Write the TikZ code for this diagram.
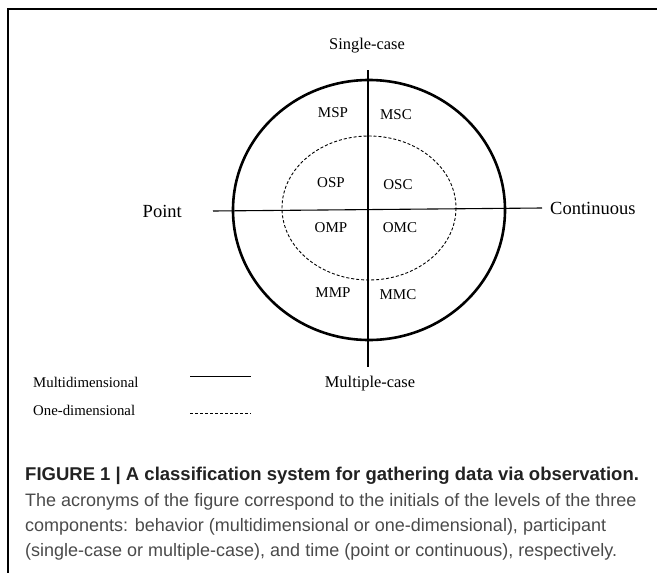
\documentclass[tikz,border=0pt]{standalone}
\usepackage{fontspec}
\setmainfont{Liberation Serif}
\newfontfamily\capfont{Liberation Sans}
\definecolor{capgray}{HTML}{4A4A4A}
\definecolor{capdark}{HTML}{222222}

\begin{document}
\begin{tikzpicture}[x=1pt, y=-1pt,
	axislabel/.style={font=\fontsize{16.4}{18}\selectfont, inner sep=0pt},
	timelabel/.style={font=\fontsize{18.5}{20}\selectfont, inner sep=0pt},
	cell/.style={font=\fontsize{15}{17}\selectfont, inner sep=0pt},
	legendtext/.style={font=\fontsize{14.8}{16}\selectfont, inner sep=0pt, anchor=west},
	captext/.style={anchor=base west, inner sep=0pt, text=capgray,
		font=\capfont\fontsize{18}{25}\selectfont},
	axis/.style={line width=1.1pt},
	multi/.style={line width=2.6pt},
	onedim/.style={line width=0.9pt, dash pattern=on 3pt off 2pt}]
	\useasboundingbox (0,0) rectangle (657,573);
	% frame
	\draw[line width=2pt] (8,573) -- (8,9) -- (657,9);
	% circles
	\draw[multi] (369,210) ellipse [x radius=136, y radius=130];
	\draw[onedim] (369,208) ellipse [x radius=87, y radius=72];
	% axes
	\coordinate (top) at (368,70);
	\coordinate (bottom) at (368,367);
	\coordinate (left) at (213,211);
	\coordinate (right) at (542,208);
	\draw[axis] (top) -- (bottom);
	\draw[axis] (left) -- (right);
	\node[axislabel] (single) at (367,46) {Single-case};
	\node[axislabel] (multiple) at (370,384) {Multiple-case};
	\node[timelabel, anchor=east] (point) at (182,211) {Point};
	\node[timelabel, anchor=west] (cont) at (550,208) {Continuous};
	% cells
	\node[cell] (msp) at (333,113) {MSP};
	\node[cell] (msc) at (396,115) {MSC};
	\node[cell] (osp) at (331,183) {OSP};
	\node[cell] (osc) at (398,185) {OSC};
	\node[cell] (omp) at (331,228) {OMP};
	\node[cell] (omc) at (400,228) {OMC};
	\node[cell] (mmp) at (333,293) {MMP};
	\node[cell] (mmc) at (398,295) {MMC};
	% legend
	\node[legendtext] (lmulti) at (33,382) {Multidimensional};
	\node[legendtext] (lone) at (33,410) {One-dimensional};
	\coordinate (ma) at (190,376);
	\coordinate (mb) at (251,376);
	\coordinate (oa) at (190,413);
	\coordinate (ob) at (251,413);
	\draw[line width=0.9pt] (ma) -- (mb);
	\draw[onedim, line width=0.7pt] (oa) -- (ob);
	% caption
	\node[captext, text=capdark, font=\capfont\bfseries\fontsize{18.5}{25}\selectfont] (title) at (25,480)
		{FIGURE 1 | A classification system for gathering data via observation.};
	\node[captext] (cap1) at (25,506) {The acronyms of the figure correspond to the initials of the levels of the three};
	\node[captext] (cap2) at (25,531) {components: behavior (multidimensional or one-dimensional), participant};
	\node[captext] (cap3) at (25,556) {(single-case or multiple-case), and time (point or continuous), respectively.};
\end{tikzpicture}
\end{document}
